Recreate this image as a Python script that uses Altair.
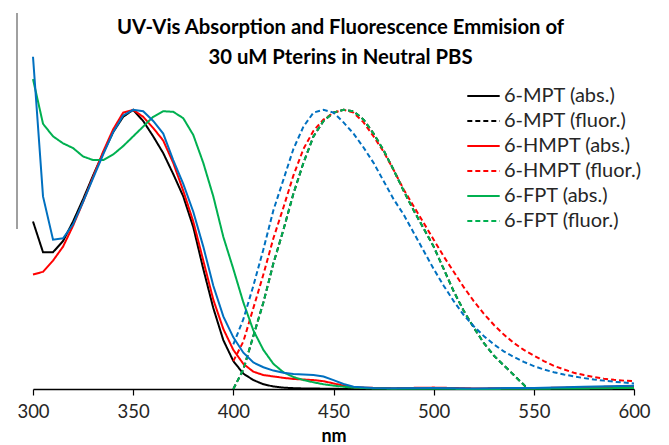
import altair as alt
import pandas as pd

# ---------------- data ----------------
names = ["6-MPT (abs.)", "6-MPT (fluor.)", "6-HMPT (abs.)", "6-HMPT (fluor.)",
         "6-FPT (abs.)", "6-FPT (fluor.)"]
colors = ["#000000", "#000000", "#FF0000", "#FF0000", "#00B050", "#00B050"]
dashes = [[1, 0], [5, 3], [1, 0], [5, 3], [1, 0], [5, 3]]

abs_nm = [300, 305, 310, 315, 320, 325, 330, 335, 340, 345, 350, 355, 360, 365,
          370, 375, 380, 385, 390, 395, 400, 405, 410, 415, 420, 425, 430, 435,
          440, 445, 450, 455, 460, 470, 480, 500, 520, 550, 575, 600]

mpt_abs = [0.60, 0.49, 0.49, 0.53, 0.60, 0.68, 0.765, 0.845, 0.92, 0.975, 1.0, 0.96,
           0.905, 0.845, 0.77, 0.69, 0.58, 0.43, 0.29, 0.175, 0.10, 0.055, 0.032,
           0.017, 0.009, 0.005, 0.003, 0.002, 0.002, 0.001, 0.001, 0.0, 0.0, 0.0,
           0.0, 0.002, 0.0, 0.001, 0.002, 0.004]
hmpt_abs = [0.41, 0.42, 0.46, 0.51, 0.585, 0.67, 0.76, 0.85, 0.93, 0.99, 1.0, 0.975,
            0.935, 0.89, 0.81, 0.71, 0.60, 0.46, 0.32, 0.215, 0.14, 0.09, 0.062,
            0.05, 0.045, 0.04, 0.036, 0.034, 0.032, 0.028, 0.02, 0.012, 0.006,
            0.004, 0.003, 0.005, 0.002, 0.003, 0.006, 0.01]
fpt_abs = [1.11, 0.95, 0.905, 0.88, 0.863, 0.833, 0.82, 0.82, 0.84, 0.87, 0.905,
           0.94, 0.975, 0.995, 0.993, 0.97, 0.91, 0.81, 0.69, 0.545, 0.43, 0.31,
           0.21, 0.14, 0.09, 0.06, 0.043, 0.032, 0.024, 0.017, 0.012, 0.008,
           0.005, 0.002, 0.001, 0.001, 0.0, 0.001, 0.002, 0.004]
blue_abs = [1.19, 0.69, 0.535, 0.54, 0.59, 0.67, 0.755, 0.84, 0.92, 0.98, 1.0, 0.995,
            0.96, 0.915, 0.82, 0.735, 0.635, 0.51, 0.37, 0.26, 0.185, 0.13, 0.095,
            0.078, 0.066, 0.058, 0.054, 0.052, 0.05, 0.045, 0.032, 0.018, 0.008,
            0.004, 0.003, 0.004, 0.002, 0.004, 0.008, 0.012]

fl_nm = [400, 405, 410, 415, 420, 425, 430, 435, 440, 445, 450, 455, 460, 465,
         470, 475, 480, 485, 490, 495, 500, 505, 510, 515, 520, 525, 530, 535,
         540, 545, 550, 555, 560, 565, 570, 575, 580, 585, 590, 595, 600]

mpt_fl_nm = [400, 405, 410, 415, 420, 425, 430, 435, 440, 445, 450, 455, 460, 465,
             470, 475, 480, 485, 490, 495, 500, 505, 510, 515, 520, 525, 530, 535,
             540, 545, 547]
mpt_fl = [0.0, 0.07, 0.19, 0.31, 0.45, 0.57, 0.70, 0.81, 0.905, 0.96, 0.99, 1.0,
          0.995, 0.965, 0.915, 0.855, 0.785, 0.71, 0.64, 0.575, 0.51, 0.43, 0.35,
          0.28, 0.22, 0.165, 0.12, 0.085, 0.05, 0.015, 0.0]
fpt_fl = [0.0, 0.07, 0.19, 0.31, 0.45, 0.57, 0.70, 0.81, 0.905, 0.96, 0.99, 1.0,
          0.995, 0.965, 0.915, 0.855, 0.785, 0.71, 0.64, 0.575, 0.51, 0.43, 0.35,
          0.28, 0.22, 0.165, 0.12, 0.085, 0.05, 0.015, 0.0]
hmpt_fl = [0.10, 0.17, 0.29, 0.41, 0.54, 0.65, 0.765, 0.86, 0.925, 0.965, 0.99, 1.0,
           0.99, 0.955, 0.905, 0.85, 0.785, 0.715, 0.655, 0.595, 0.535, 0.475, 0.42,
           0.365, 0.315, 0.27, 0.23, 0.195, 0.165, 0.14, 0.12, 0.10, 0.083, 0.07,
           0.058, 0.05, 0.043, 0.037, 0.033, 0.03, 0.028]
blue_fl = [0.16, 0.25, 0.37, 0.50, 0.64, 0.75, 0.86, 0.94, 0.99, 1.0, 0.99, 0.955,
           0.915, 0.865, 0.81, 0.745, 0.68, 0.625, 0.56, 0.495, 0.43, 0.37, 0.315,
           0.265, 0.225, 0.19, 0.16, 0.135, 0.115, 0.097, 0.082, 0.07, 0.06, 0.052,
           0.045, 0.039, 0.034, 0.03, 0.026, 0.023, 0.02]

x_ticks = [300, 350, 400, 450, 500, 550, 600]
title_lines = ["UV-Vis Absorption and Fluorescence Emmision of",
               "30 uM Pterins in Neutral PBS"]

# ---------------- tables ----------------
def tbl(xs, ys, name, order):
    return pd.DataFrame({"nm": xs, "val": ys, "series": name, "ord": order})

main_df = pd.concat([
    tbl(abs_nm, mpt_abs, names[0], 0),
    tbl(mpt_fl_nm, mpt_fl, names[1], 1),
    tbl(abs_nm, hmpt_abs, names[2], 2),
    tbl(fl_nm, hmpt_fl, names[3], 3),
    tbl(abs_nm, fpt_abs, names[4], 4),
    tbl(mpt_fl_nm, fpt_fl, names[5], 5),
], ignore_index=True)

blue_df = pd.concat([
    tbl(abs_nm, blue_abs, "blue abs", 0),
    tbl(fl_nm, blue_fl, "blue fluor", 1),
], ignore_index=True)

FONT = "Lato"

x_enc = alt.X("nm:Q",
              scale=alt.Scale(domain=[300, 600], nice=False, zero=False),
              axis=alt.Axis(values=x_ticks, title="nm", grid=False, labelFlush=False,
                            labelFont=FONT, labelFontSize=18.5, labelColor="#262626",
                            titleFont=FONT, titleFontSize=18, titleFontWeight="bold",
                            titleColor="#000000", domainColor="#000000",
                            domainWidth=1.5, tickColor="#000000", tickWidth=1.2,
                            tickSize=6, labelPadding=7, titlePadding=7))
y_enc = alt.Y("val:Q", scale=alt.Scale(domain=[0, 1.2], nice=False), axis=None)

leg = alt.Legend(title=None, orient="none", legendX=433, legendY=31,
                 symbolType="stroke", symbolSize=1050, symbolStrokeWidth=2,
                 labelFont=FONT, labelFontSize=20, labelColor="#262626",
                 clipHeight=22, rowPadding=3, padding=0, labelOffset=3)

main = alt.Chart(main_df).mark_line(strokeWidth=2).encode(
    x=x_enc, y=y_enc,
    color=alt.Color("series:N", scale=alt.Scale(domain=names, range=colors), legend=leg),
    strokeDash=alt.StrokeDash("series:N", scale=alt.Scale(domain=names, range=dashes), legend=leg),
    order=alt.Order("ord:Q"),
)

blue_abs_layer = alt.Chart(blue_df[blue_df["ord"] == 0]).mark_line(
    strokeWidth=2, color="#0070C0").encode(x=x_enc, y=y_enc)
blue_fl_layer = alt.Chart(blue_df[blue_df["ord"] == 1]).mark_line(
    strokeWidth=2, color="#0070C0", strokeDash=[5, 3]).encode(x=x_enc, y=y_enc)

edge = alt.Chart(pd.DataFrame({"a": [0]})).mark_rule(
    color="#808080", strokeWidth=1.5).encode(
    x=alt.value(-16), y=alt.value(-41), y2=alt.value(175))

chart = alt.layer(main, blue_abs_layer, blue_fl_layer, edge).properties(
    width=601, height=335,
    title=alt.TitleParams(text=title_lines, font=FONT, fontSize=20.3,
                          fontWeight="bold", color="#000000", lineHeight=30,
                          anchor="middle", offset=-56, dx=7),
    autosize=alt.AutoSizeParams(type="none"),
    padding={"left": 25, "top": 46, "right": 27, "bottom": 56},
).configure_view(stroke=None)

chart.save("out.html", embed_options={"renderer": "svg", "actions": False})
